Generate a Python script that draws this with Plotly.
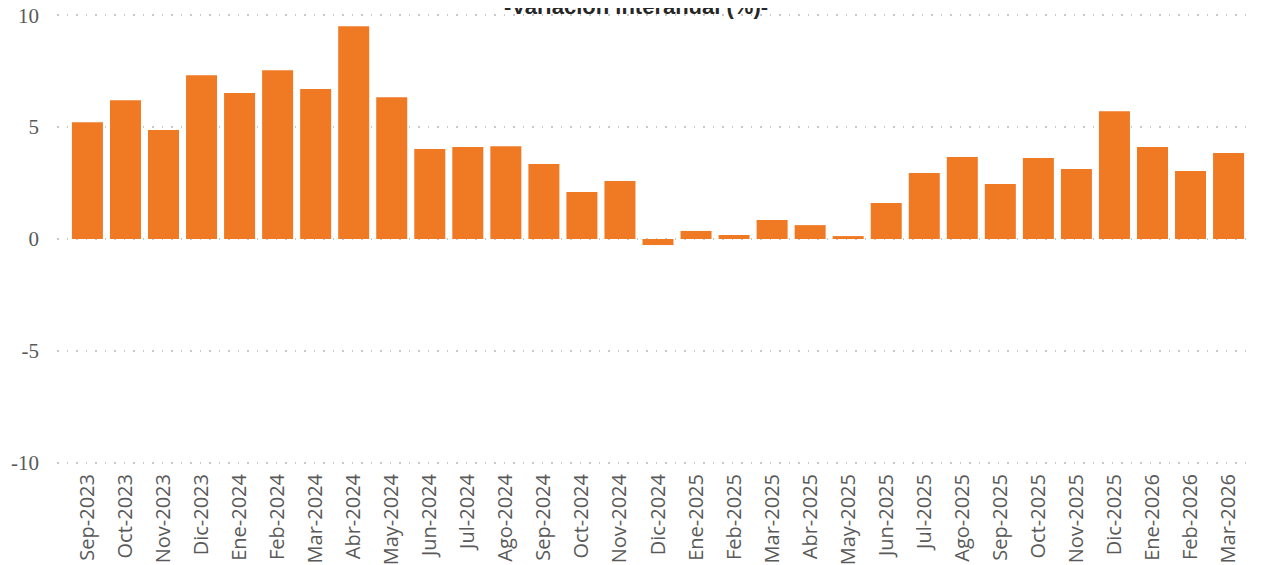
import plotly.graph_objects as go

months = ["Sep-2023", "Oct-2023", "Nov-2023", "Dic-2023", "Ene-2024", "Feb-2024", "Mar-2024",
          "Abr-2024", "May-2024", "Jun-2024", "Jul-2024", "Ago-2024", "Sep-2024", "Oct-2024",
          "Nov-2024", "Dic-2024", "Ene-2025", "Feb-2025", "Mar-2025", "Abr-2025", "May-2025",
          "Jun-2025", "Jul-2025", "Ago-2025", "Sep-2025", "Oct-2025", "Nov-2025", "Dic-2025",
          "Ene-2026", "Feb-2026", "Mar-2026"]
values = [5.22, 6.20, 4.87, 7.32, 6.52, 7.54, 6.70,
          9.51, 6.34, 4.02, 4.11, 4.15, 3.35, 2.10,
          2.59, -0.27, 0.36, 0.18, 0.85, 0.62, 0.13,
          1.61, 2.95, 3.66, 2.46, 3.62, 3.13, 5.71,
          4.11, 3.04, 3.84]
y_ticks = [-10, -5, 0, 5, 10]
title_text = "-Variación interanual (%)-"

fig = go.Figure(go.Bar(x=months, y=values, marker_color="#F07923", marker_line_width=0))

# page body has an 8px default margin, so the figure is offset by (8, 8) on screen
fig.update_layout(
    width=1262, height=565,
    paper_bgcolor="white", plot_bgcolor="white",
    margin=dict(l=49, r=11, t=5, b=108, autoexpand=False),
    bargap=0.185,
    showlegend=False,
    annotations=[dict(text="<b>" + title_text + "</b>", xref="paper", yref="paper",
                      x=0.482, y=1.0, yshift=-8, xanchor="center", yanchor="bottom",
                      showarrow=False,
                      font=dict(family="Liberation Sans, Arial", size=22, color="#262626"))],
)
fig.update_xaxes(
    range=[-0.8, 30.8], tickangle=-90, showgrid=False, zeroline=False, showline=False,
    ticks="", ticklabelstandoff=4, automargin=False,
    tickfont=dict(family="Open Sans", size=20, color="#595959"),
)
fig.update_yaxes(
    range=[-10.1, 10.1], tickvals=y_ticks, ticktext=[str(v) for v in y_ticks],
    showgrid=True, gridcolor="#C8C8C8", griddash="1.5px,8px", gridwidth=1.5,
    zeroline=False, automargin=False, ticklabeloverflow="allow",
    showline=False, ticks="", ticklabelstandoff=17,
    tickfont=dict(family="Liberation Serif, Times New Roman", size=21, color="#595959"),
)
fig.write_html("out.html")
